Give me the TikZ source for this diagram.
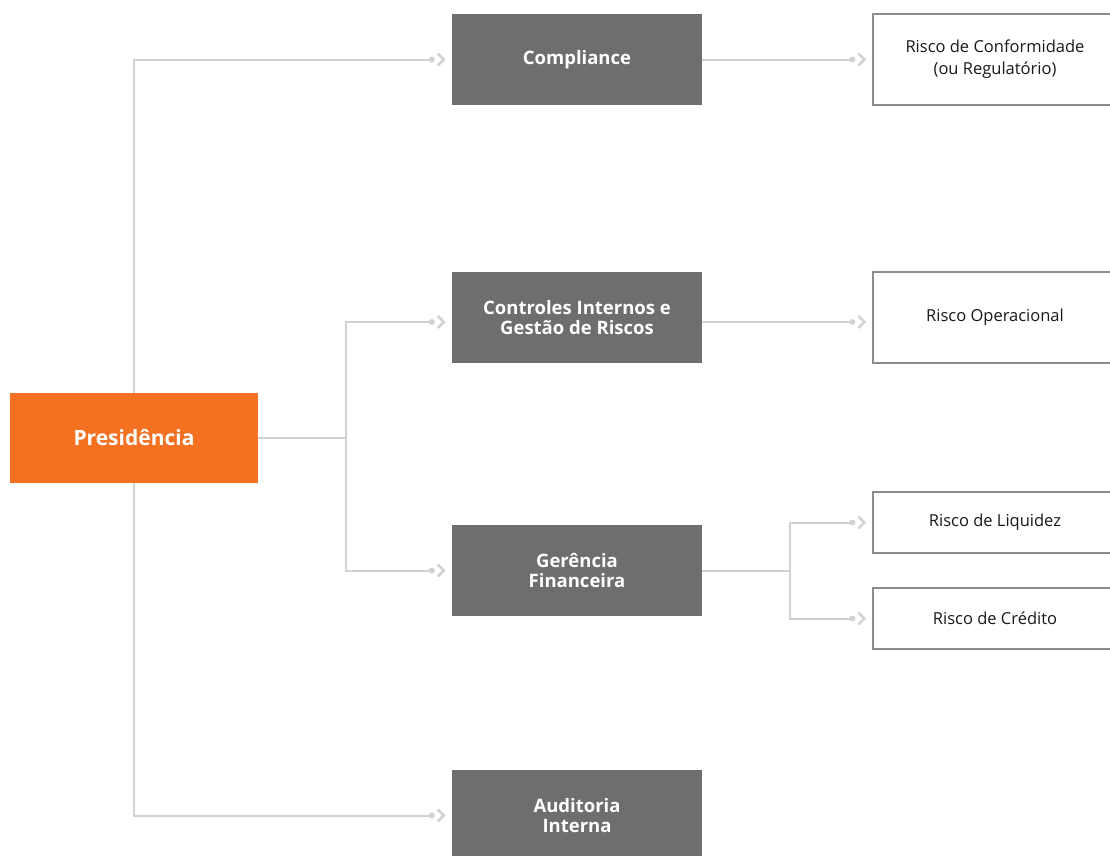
\documentclass[tikz,border=0pt]{standalone}
\usepackage{fontspec}
\setmainfont{Open Sans}
\definecolor{presorange}{HTML}{F37121}
\definecolor{boxgray}{HTML}{6E6E6E}
\definecolor{linegray}{HTML}{D2D2D2}
\definecolor{edgegray}{HTML}{8C8C8C}
\tikzset{
  darkbox/.style={fill=boxgray, text=white, font=\bfseries\fontsize{18.5}{20.5}\selectfont,
    minimum width=250pt, minimum height=91pt, inner sep=0pt, align=center},
  presbox/.style={fill=presorange, text=white, font=\bfseries\fontsize{21}{23}\selectfont,
    minimum width=248pt, minimum height=90pt, inner sep=0pt, align=center},
  riskbox/.style={draw=edgegray, line width=1.3pt, fill=white, text=black!90,
    font=\fontsize{16.5}{22}\selectfont, minimum width=244pt, inner sep=0pt, align=center},
  conn/.style={draw=linegray, line width=2pt},
  tipmark/.pic={
    \fill[linegray] (-20,0) circle (3);
    \draw[linegray, line width=2.6pt, miter limit=4] (-14,-6) -- (-8,0) -- (-14,6);
  }
}
\begin{document}
\begin{tikzpicture}[x=1pt,y=-1pt]
\useasboundingbox[fill=white] (0,0) rectangle (1110,855);

% nodes
\node[presbox] (pres) at (134,438) {Presidência};
\node[darkbox] (comp) at (577,59.5) {Compliance};
\node[darkbox] (ctrl) at (577,317.5) {Controles Internos e\\Gestão de Riscos};
\node[darkbox] (ger)  at (577,570.5) {Gerência\\Financeira};
\node[darkbox] (aud)  at (577,815.5) {Auditoria\\Interna};

\node[riskbox, minimum height=91pt] (conf) at (995,59.5) {Risco de Conformidade\\(ou Regulatório)};
\node[riskbox, minimum height=91pt] (oper) at (995,317.5) {Risco Operacional};
\node[riskbox, minimum height=61pt] (liq)  at (995,522.5) {Risco de Liquidez};
\node[riskbox, minimum height=61pt] (cred) at (995,618.5) {Risco de Crédito};

% helper coordinates
\coordinate (ctrlin) at ([yshift=-4.5pt]ctrl.west);
\coordinate (operin) at ([yshift=-4.5pt]oper.west);
\coordinate (ctrlout) at ([yshift=-4.5pt]ctrl.east);
\coordinate (j1) at ([xshift=88pt]pres.east);
\coordinate (j2) at ([xshift=88pt]ger.east);

% connectors
\draw[conn, shorten >=20pt] (pres.north) |- (comp.west);
\pic at (comp.west) {tipmark};
\draw[conn, shorten >=20pt] (pres.south) |- (aud.west);
\pic at (aud.west) {tipmark};
\draw[conn] (pres.east) -- (j1);
\draw[conn, shorten >=20pt] (j1) |- (ctrlin);
\pic at (ctrlin) {tipmark};
\draw[conn, shorten >=20pt] (j1) |- (ger.west);
\pic at (ger.west) {tipmark};

\draw[conn, shorten >=20pt] (comp.east) -- (conf.west);
\pic at (conf.west) {tipmark};
\draw[conn, shorten >=20pt] (ctrlout) -- (operin);
\pic at (operin) {tipmark};
\draw[conn] (ger.east) -- (j2);
\draw[conn, shorten >=20pt] (j2) |- (liq.west);
\pic at (liq.west) {tipmark};
\draw[conn, shorten >=20pt] (j2) |- (cred.west);
\pic at (cred.west) {tipmark};
\end{tikzpicture}
\end{document}
